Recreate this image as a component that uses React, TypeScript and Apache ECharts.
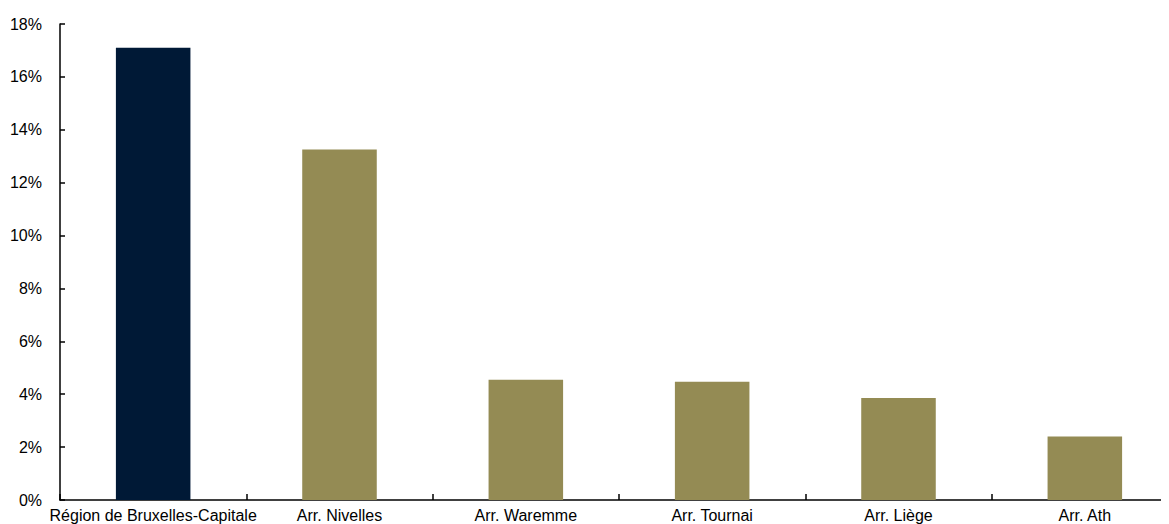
import React, { useEffect, useRef } from "react";
import * as echarts from "echarts";

const categories = [
  "Région de Bruxelles-Capitale",
  "Arr. Nivelles",
  "Arr. Waremme",
  "Arr. Tournai",
  "Arr. Liège",
  "Arr. Ath",
];
const values = [17.1, 13.25, 4.55, 4.47, 3.86, 2.4];
const barColors = ["#001936", "#948B54", "#948B54", "#948B54", "#948B54", "#948B54"];

const FONT = "Arial, 'Liberation Sans', sans-serif";

export default function App() {
  const ref = useRef<HTMLDivElement>(null);
  useEffect(() => {
    if (!ref.current) return;
    const chart = echarts.init(ref.current, undefined, { renderer: "svg" });
    chart.setOption({
      animation: false,
      backgroundColor: "#ffffff",
      grid: { left: 52, top: 16, width: 1118, height: 476, containLabel: false, outerBoundsMode: "none" },
      xAxis: {
        type: "category",
        data: categories,
        axisLine: { show: true, lineStyle: { color: "#000", width: 1.5 } },
        axisTick: { show: true, inside: true, length: 6, alignWithLabel: false, lineStyle: { color: "#000", width: 1.5 } },
        axisLabel: { color: "#000", fontFamily: FONT, fontSize: 16, margin: 7, interval: 0, hideOverlap: false },
        splitLine: { show: false },
      },
      yAxis: {
        type: "value",
        min: 0,
        max: 18,
        interval: 2,
        axisLine: { show: true, lineStyle: { color: "#000", width: 1.5 } },
        axisTick: { show: true, inside: true, length: 5, lineStyle: { color: "#000", width: 1.5 } },
        axisLabel: { color: "#000", fontFamily: FONT, fontSize: 16, margin: 18, formatter: "{value}%" },
        splitLine: { show: false },
      },
      series: [
        {
          type: "bar",
          barWidth: "40%",
          data: values.map((v, i) => ({ value: v, itemStyle: { color: barColors[i] } })),
        },
      ],
    });
    return () => chart.dispose();
  }, []);
  return <div ref={ref} style={{ width: 1161, height: 516 }} />;
}
